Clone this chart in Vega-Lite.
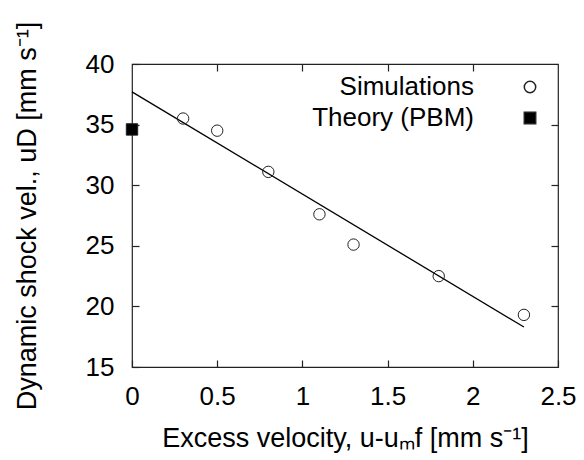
{
  "$schema": "https://vega.github.io/schema/vega-lite/v6.json",
  "width": 426,
  "height": 303,
  "padding": {"left": 13, "top": 21, "right": 26, "bottom": 5},
  "config": {
    "font": "Liberation Sans",
    "view": {"stroke": "#222", "strokeWidth": 1.2},
    "axis": {
      "grid": false, "domain": false, "tickColor": "#222", "tickSize": 7, "tickWidth": 1.2, "offset": -7,
      "labelFont": "Liberation Sans", "labelFontSize": 26, "labelColor": "black",
      "titleFont": "Liberation Sans", "titleFontSize": 27, "titleFontWeight": "normal", "titleColor": "black"
    },
    "legend": {"labelFont": "Liberation Sans", "labelFontSize": 26, "labelColor": "black"}
  },
  "datasets": {
    "points": [
      {"x": 0.3, "y": 35.5, "series": "Simulations"},
      {"x": 0.5, "y": 34.5, "series": "Simulations"},
      {"x": 0.8, "y": 31.1, "series": "Simulations"},
      {"x": 1.1, "y": 27.6, "series": "Simulations"},
      {"x": 1.3, "y": 25.1, "series": "Simulations"},
      {"x": 1.8, "y": 22.5, "series": "Simulations"},
      {"x": 2.3, "y": 19.3, "series": "Simulations"},
      {"x": 0.0, "y": 34.6, "series": "Theory (PBM)"}
    ],
    "fit": [
      {"x": 0.0, "y": 37.7},
      {"x": 2.3, "y": 18.3}
    ]
  },
  "layer": [
    {
      "data": {"name": "fit"},
      "mark": {"type": "line", "color": "black", "strokeWidth": 1.3},
      "encoding": {
        "x": {"field": "x", "type": "quantitative", "scale": {"domain": [0, 2.5], "nice": false},
              "axis": {"orient": "bottom", "values": [0, 0.5, 1, 1.5, 2, 2.5], "format": "~g", "labelPadding": 16, "labelFlush": false,
                       "title": "Excess velocity, u-uₘf [mm s⁻¹]", "titlePadding": 16}},
        "y": {"field": "y", "type": "quantitative", "scale": {"domain": [15, 40], "nice": false, "zero": false},
              "axis": {"orient": "left", "values": [15, 20, 25, 30, 35, 40], "labelPadding": 18, "labelFlush": false,
                       "title": "Dynamic shock vel., uD [mm s⁻¹]", "titlePadding": 44}}
      }
    },
    {
      "data": {"name": "points"},
      "mark": {"type": "point", "filled": true, "stroke": "#222", "strokeWidth": 1, "opacity": 1, "size": 130},
      "encoding": {
        "x": {"field": "x", "type": "quantitative", "axis": {"orient": "top", "values": [0.5, 1, 1.5, 2], "labels": false, "title": null}},
        "y": {"field": "y", "type": "quantitative", "axis": {"orient": "right", "values": [20, 25, 30, 35], "labels": false, "title": null}},
        "shape": {"field": "series", "type": "nominal", "scale": {"domain": ["Simulations", "Theory (PBM)"], "range": ["circle", "square"]},
                  "legend": {"title": null, "orient": "none", "legendX": 385, "legendY": 10, "labelAlign": "right", "labelOffset": -69, "labelLimit": 400, "rowPadding": 5, "symbolSize": 130,
                             "encode": {"symbols": {"update": {"stroke": {"value": "#222"}, "strokeWidth": {"value": 1}}}}}},
        "fill": {"field": "series", "type": "nominal", "scale": {"domain": ["Simulations", "Theory (PBM)"], "range": ["transparent", "black"]},
                 "legend": {"title": null, "orient": "none", "legendX": 385, "legendY": 10, "labelAlign": "right", "labelOffset": -69, "labelLimit": 400, "rowPadding": 5, "symbolSize": 130,
                            "encode": {"symbols": {"update": {"stroke": {"value": "#222"}, "strokeWidth": {"value": 1}}}}}}
      }
    }
  ],
  "resolve": {"axis": {"x": "independent", "y": "independent"}}
}
